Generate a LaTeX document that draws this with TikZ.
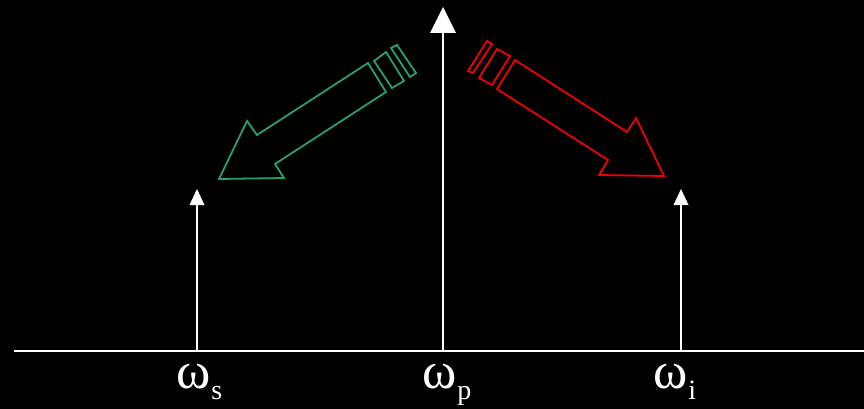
\documentclass[tikz,border=0pt]{standalone}
\usepackage{fontspec}
\setmainfont{Liberation Serif}
\definecolor{sgreen}{RGB}{40,160,105}
\definecolor{ired}{RGB}{240,0,0}
\begin{document}
\begin{tikzpicture}[x=1pt,y=-1pt,
  axis/.style={draw=white,line width=2pt},
  vline/.style={draw=white,line width=2pt},
  headfill/.style={fill=white,draw=none},
  outl/.style={line width=1.8pt,line join=miter},
  lbl/.style={text=white,inner sep=0pt,font=\fontsize{52}{52}\selectfont}]
\useasboundingbox[fill=black] (0,0) rectangle (864,409);
% axis
\coordinate (ax0) at (14,351);
\coordinate (ax1) at (864,351);
\draw[axis] (ax0) -- (ax1);
% centre pump arrow
\coordinate (pb) at (443,351);
\coordinate (pt) at (443,32);
\draw[vline] (pb) -- (pt);
\fill[headfill] (443,7) -- (456,33) -- (430,33) -- cycle;
% signal arrow
\coordinate (sb) at (197,351);
\coordinate (st) at (197,204);
\draw[vline] (sb) -- (st);
\fill[headfill] (197,189) -- (204.5,205) -- (189.5,205) -- cycle;
% idler arrow
\coordinate (ib) at (681,351);
\coordinate (it) at (681,204);
\draw[vline] (ib) -- (it);
\fill[headfill] (681,189) -- (688.5,205) -- (673.5,205) -- cycle;
% green block arrow
\draw[outl,sgreen] (219,179) -- (247,121) -- (257,135) -- (368,63) -- (386,92)
  -- (275,164) -- (284,178) -- cycle;
\draw[outl,sgreen] (374,61) -- (386,52) -- (404,81) -- (392,88) -- cycle;
\draw[outl,sgreen] (391,48) -- (397,45) -- (416,73) -- (410,77) -- cycle;
% red block arrow
\draw[outl,ired] (664,176) -- (636,118) -- (627,132) -- (515,60) -- (497,89)
  -- (608,160) -- (599,175) -- cycle;
\draw[outl,ired] (497,49) -- (510,56) -- (492,85) -- (479,78) -- cycle;
\draw[outl,ired] (487,41) -- (492,44) -- (473,73) -- (468,71) -- cycle;
% labels
\node[lbl,anchor=base west] (ls) at (176,388) {ω\kern1pt\raisebox{-11pt}{\fontsize{28}{28}\selectfont s}};
\node[lbl,anchor=base west] (lp) at (422,388) {ω\kern1pt\raisebox{-11pt}{\fontsize{28}{28}\selectfont p}};
\node[lbl,anchor=base west] (li) at (653,388) {ω\kern1pt\raisebox{-11pt}{\fontsize{28}{28}\selectfont i}};
\end{tikzpicture}
\end{document}
